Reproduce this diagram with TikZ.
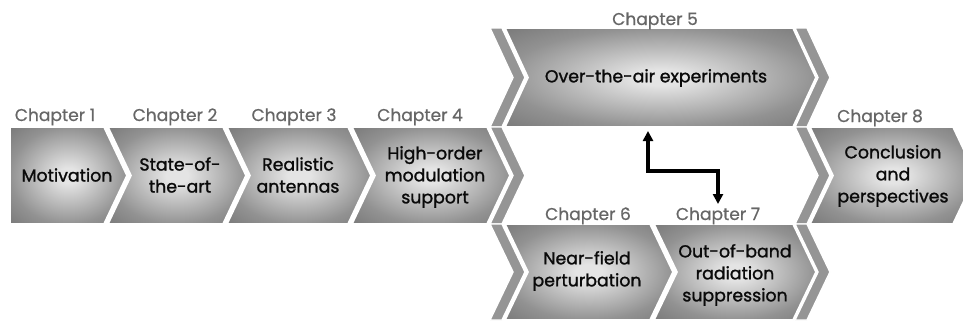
\documentclass[tikz,border=0pt]{standalone}
\usepackage{fontspec}
\setmainfont{Poppins}
\newfontfamily\titlefont{Poppins}[FakeBold=1.3]
\newfontfamily\headfont{Poppins}[FakeBold=0.6]
\usetikzlibrary{arrows.meta}

\definecolor{shadeIn}{HTML}{E4E4E4}
\definecolor{shadeMid}{HTML}{929292}
\definecolor{shadeOut}{HTML}{747474}
\definecolor{bandDark}{HTML}{959595}
\definecolor{bandLight}{HTML}{E0E0E0}
\definecolor{hdrgray}{HTML}{666666}
\definecolor{bodyink}{HTML}{0A0A0A}

% light centre fading to grey towards the edges of each chevron
\pgfdeclareradialshading{chevshade}{\pgfpoint{0bp}{0bp}}{%
  color(0bp)=(shadeIn); color(4bp)=(shadeIn); color(25bp)=(shadeMid);
  color(38bp)=(shadeOut); color(50bp)=(shadeOut)}

% chevron box: #1 left x, #2 top-right x, #3 top y, #4 bottom y, #5 notch depth
\newcommand{\chevbox}[5]{%
  \path[chevstyle] (#1,#3) -- (#2,#3) -- ({#2+23},{(#3+#4)/2}) -- (#2,#4)
    -- (#1,#4) -- ({#1+#5},{(#3+#4)/2}) -- cycle;}
% thin chevron band: #1 left x, #2 top y, #3 bottom y
\newcommand{\chevband}[3]{%
  \path[bandstyle] (#1,#2) -- ({#1+12},#2) -- ({#1+35},{(#2+#3)/2}) -- ({#1+12},#3)
    -- (#1,#3) -- ({#1+23},{(#2+#3)/2}) -- cycle;}

\begin{document}
\begin{tikzpicture}[x=0.75pt,y=-0.75pt,
  chevstyle/.style={shade, shading=chevshade, draw=white, line width=1.3pt, line join=miter},
  bandstyle/.style={shade, top color=bandDark, middle color=bandLight, bottom color=bandDark,
    draw=white, line width=1.1pt, line join=miter},
  hdr/.style={anchor=base, text=hdrgray, inner sep=0pt, font=\headfont\fontsize{12.8}{14}\selectfont},
  body/.style={align=center, text=bodyink, inner sep=0pt, font=\titlefont\fontsize{13}{16.5}\selectfont},
  link/.style={line width=2.3pt, {Triangle[length=7.5pt,width=7.5pt]}-{Triangle[length=7.5pt,width=7.5pt]}}]

\useasboundingbox (0,0) rectangle (963,322);
\clip (0,0) rectangle (963,322);

% first row of chapters
\chevbox{10}{104}{127}{224}{0}
\chevbox{108}{223}{127}{224}{23}
\chevbox{227}{348}{127}{224}{23}
\chevbox{352}{487}{127}{224}{23}

% branching bands
\chevband{490}{28}{127}
\chevband{490}{127}{224}
\chevband{490}{224}{320}
\chevband{795}{28}{127}
\chevband{795}{127}{224}
\chevband{795}{224}{320}

% parallel branches and the closing chapter
\chevbox{505}{793}{28}{127}{23}
\chevbox{505}{650}{224}{320}{23}
\chevbox{654}{793}{224}{320}{23}
\chevbox{810}{953}{127}{224}{23}

% chapter headers
\node[hdr] (h1) at (55,121) {Chapter 1};
\node[hdr] (h2) at (175,121) {Chapter 2};
\node[hdr] (h3) at (294,121) {Chapter 3};
\node[hdr] (h4) at (420,121) {Chapter 4};
\node[hdr] (h5) at (655,25) {Chapter 5};
\node[hdr] (h6) at (588,220) {Chapter 6};
\node[hdr] (h7) at (718,220) {Chapter 7};
\node[hdr] (h8) at (880,122) {Chapter 8};

% chapter titles
\node[body] (t1) at (67,175) {Motivation};
\node[body] (t2) at (180,175) {State-of-\\the-art};
\node[body] (t3) at (298,175) {Realistic\\antennas};
\node[body] (t4) at (435,177) {High-order\\modulation\\support};
\node[body] (t5) at (656,78) {Over-the-air experiments};
\node[body] (t6) at (587,271) {Near-field\\perturbation};
\node[body] (t7) at (735,275) {Out-of-band\\radiation\\suppression};
\node[body] (t8) at (893,176) {Conclusion\\and\\perspectives};

% link between chapters 5 and 7
\coordinate (up) at (648,131);
\coordinate (dn) at (718,204);
\coordinate (mid) at (683,171);
\draw[link] (up) |- (mid) -| (dn);
\end{tikzpicture}
\end{document}
